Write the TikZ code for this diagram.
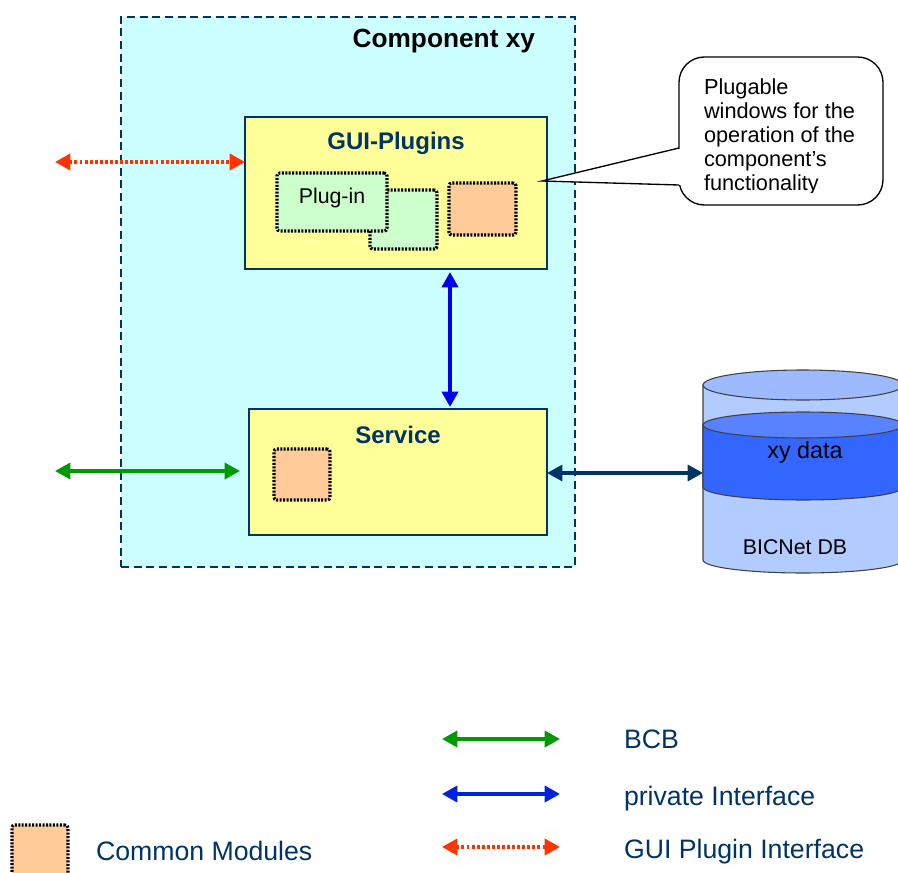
\documentclass[tikz,border=0pt]{standalone}
\usepackage{fontspec}
\setmainfont{Liberation Sans}
\usetikzlibrary{arrows.meta}

\definecolor{navy}{HTML}{003366}
\definecolor{compfill}{HTML}{CCFFFF}
\definecolor{boxfill}{HTML}{FFFF99}
\definecolor{plugfill}{HTML}{CCFFCC}
\definecolor{modfill}{HTML}{FFCC99}
\definecolor{bcbgreen}{HTML}{009900}
\definecolor{privblue}{HTML}{0022DD}
\definecolor{guired}{HTML}{FF3300}
\definecolor{dbbody}{HTML}{B3CCFF}
\definecolor{dbtop}{HTML}{9DBAFF}
\definecolor{dbband}{HTML}{3366FF}
\definecolor{dbbandtop}{HTML}{5882FF}

\begin{document}
\begin{tikzpicture}[x=0.75pt,y=-0.75pt,
  every node/.style={inner sep=0pt,outer sep=0pt},
  comp/.style={draw=navy,fill=compfill,line width=1.8pt,dash pattern=on 6pt off 3.5pt},
  unit/.style={draw=navy,fill=boxfill,line width=1pt},
  modbox/.style={draw=black,line width=2.3pt,dash pattern=on 1.5pt off 1.1pt,rounded corners=2pt},
  plug/.style={modbox,fill=plugfill},
  common/.style={modbox,fill=modfill},
  title/.style={font=\bfseries\fontsize{18}{21}\selectfont,text=navy},
  legtext/.style={font=\fontsize{20}{23}\selectfont,text=navy,anchor=base west},
  twoway/.style={{Triangle[length=11.5pt,width=12pt]}-{Triangle[length=11.5pt,width=12pt]}},
  bcb/.style={draw=bcbgreen,line width=2.6pt,twoway},
  priv/.style={draw=privblue,line width=2.8pt,twoway},
  guiif/.style={draw=guired,line width=2.8pt,dash pattern=on 2.2pt off 1.6pt,twoway},
  dblink/.style={draw=navy,line width=2.4pt,twoway},
  dbline/.style={draw=black!75,line width=0.8pt}
]
\clip (0,0) rectangle (898,873);

% component frame
\node[comp,minimum width=454*0.75pt,minimum height=550*0.75pt] (comp) at (348,292) {};
\node[font=\bfseries\fontsize{19.7}{23}\selectfont,anchor=base east] (comptitle) at (535,48) {Component xy};

% GUI plugins block
\node[unit,minimum width=302*0.75pt,minimum height=152*0.75pt] (gui) at (396,193) {};
\node[title,anchor=base] (guititle) at (396,150) {GUI-Plugins};
\node[plug,minimum width=67*0.75pt,minimum height=59*0.75pt] (plugb) at (403.5,219.5) {};
\node[plug,minimum width=110*0.75pt,minimum height=58*0.75pt] (pluga) at (332,202) {};
\node[font=\fontsize{16}{19}\selectfont,anchor=base] (plugtext) at (332,204) {Plug-in};
\node[common,minimum width=67*0.75pt,minimum height=52*0.75pt] (guimod) at (482.5,209) {};

% service block
\node[unit,minimum width=298*0.75pt,minimum height=126*0.75pt] (svc) at (398,472) {};
\node[title,anchor=base] (svctitle) at (398,443) {Service};
\node[common,minimum width=56*0.75pt,minimum height=51*0.75pt] (svcmod) at (302,474.5) {};

% database cylinder (y axis points down, so the lower rims run through 90 degrees)
\coordinate (dbw) at (703,473);
\filldraw[dbline,fill=dbbody] (703,385) -- (703,560) arc[start angle=180,end angle=0,x radius=100,y radius=13] -- (903,385) -- cycle;
\filldraw[dbline,fill=dbtop] (803,385) ellipse[x radius=100,y radius=15];
\filldraw[dbline,fill=dbband] (703,425) -- (703,487) arc[start angle=180,end angle=0,x radius=100,y radius=13] -- (903,425) -- cycle;
\filldraw[dbline,fill=dbbandtop] (803,425) ellipse[x radius=100,y radius=13];
\node[font=\fontsize{17.5}{20}\selectfont,anchor=base] (xydata) at (805,458) {xy data};
\node[font=\fontsize{16}{19}\selectfont,anchor=base] (dbname) at (795,554) {BICNet DB};

% callout
\coordinate (calltip) at (542,181);
\node[draw=black,fill=white,line width=1pt,rounded corners=19pt,minimum width=204*0.75pt,minimum height=148*0.75pt] (call) at (781,131) {};
\fill[white] (684,148) -- (calltip) -- (684,185) -- cycle;
\draw[black,line width=1pt] (call.west |- 0,148) -- (calltip) -- (call.west |- 0,185);
\begin{scope}
  \clip (682,60) rectangle (880,193);
  \node[font=\fontsize{16.3}{18}\selectfont,align=left,anchor=base west] (calltext) at (704,191)
    {Plugable\\windows for the\\operation of the\\component’s\\functionality};
\end{scope}

% connectors
\coordinate (redend) at (55,162);
\coordinate (greenend) at (55,471);
\coordinate (greentip) at (240,471);
\coordinate (bv) at (450,0);
\draw[guiif] (redend) -- (gui.west |- redend);
\draw[bcb] (greenend) -- (greentip);
\draw[priv,draw=blue!93!black] ([yshift=-3*0.75pt]gui.south -| bv) -- ([yshift=2*0.75pt]svc.north -| bv);
\draw[dblink] (svc.east |- dbw) -- (dbw);

% legend
\coordinate (l1a) at (442,739); \coordinate (l1b) at (560,739);
\coordinate (l2a) at (442,794); \coordinate (l2b) at (560,794);
\coordinate (l3a) at (442,847); \coordinate (l3b) at (560,847);
\draw[bcb] (l1a) -- (l1b);
\draw[priv] (l2a) -- (l2b);
\draw[guiif] (l3a) -- (l3b);
\node[legtext] (lbcb) at (624,748) {BCB};
\node[legtext] (lpriv) at (624,805) {private Interface};
\node[legtext] (lgui) at (624,858) {GUI Plugin Interface};
\node[common,minimum width=56*0.75pt,minimum height=56*0.75pt] (legmod) at (40,853) {};
\node[legtext] (lmod) at (96,860) {Common Modules};
\end{tikzpicture}
\end{document}
